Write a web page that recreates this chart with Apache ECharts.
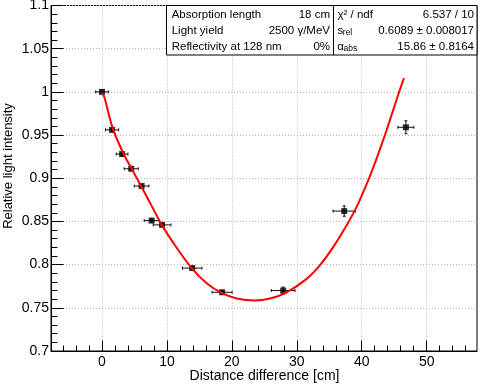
<!DOCTYPE html>
<html><head><meta charset="utf-8">
<script src="https://cdn.jsdelivr.net/npm/echarts@6/dist/echarts.min.js"></script>
<style>html,body{margin:0;padding:0;background:#fff}#c{width:480px;height:386px}</style>
</head><body><div id="c"></div>
<script>
// measured points
const pointX = [0, 1.55, 3.1, 4.5, 6.1, 7.65, 9.25, 13.9, 18.5, 27.9, 37.3, 46.8];
const pointY = [1.0, 0.956, 0.928, 0.911, 0.891, 0.851, 0.846, 0.796, 0.768, 0.770, 0.862, 0.959];
const errX = [0.98, 1.02, 0.9, 1.08, 1.13, 1.15, 1.36, 1.5, 1.54, 1.82, 1.72, 1.23];
const errY = [0.002, 0.002, 0.002, 0.002, 0.002, 0.002, 0.002, 0.002, 0.002, 0.004, 0.006, 0.0075];
// fit curve
const curveX = [0, 0.36, 1.65, 3.28, 4.72, 6.16, 8.42, 9.19, 11.5, 13.81, 16.12, 18.43, 20.74, 23.56, 25.87, 28.44, 31.52, 33.57, 35.62, 37.68, 39.22, 41.01, 42.3, 43.84, 45.63, 46.5];
const curveY = [0.999, 0.994, 0.958, 0.929, 0.909, 0.889, 0.857, 0.846, 0.8195, 0.796, 0.7785, 0.7672, 0.7607, 0.7584, 0.7607, 0.768, 0.7835, 0.7993, 0.8205, 0.8457, 0.8669, 0.8979, 0.9231, 0.9559, 0.997, 1.0159];
// axis ticks
const xMajorTicks = [0, 10, 20, 30, 40, 50];
const xMinorTicks = [-6, -4, -2, 2, 4, 6, 8, 12, 14, 16, 18, 22, 24, 26, 28, 32, 34, 36, 38, 42, 44, 46, 48, 52, 54, 56];
// titles
const xTitle = 'Distance difference [cm]';
const yTitle = 'Relative light intensity';
// stats box
const statsLeftLabels = ['Absorption length', 'Light yield', 'Reflectivity at 128 nm'];
const statsLeftValues = ['18 cm', '2500 \u03b3/MeV', '0%'];
const statsRightValues = ['6.537 / 10', '0.6089 \u00b1 0.008017', '15.86 \u00b1 0.8164'];

const FONT = '"Liberation Sans", Arial, Helvetica, sans-serif';
const chart = echarts.init(document.getElementById('c'));
const rowY = [14.4, 31, 46.7];
const gridLine = {show: true, lineStyle: {color: '#b4b4b4', type: [1, 2], width: 1}};

function txt(text, x, y, size, align, extra) {
  return Object.assign({type: 'text', x: x, y: y, z: 100,
    style: {text: text, fill: '#000', font: size + 'px ' + FONT, fontSize: size, fontFamily: FONT,
      align: align, textAlign: align, verticalAlign: 'middle', textVerticalAlign: 'middle'}}, extra || {});
}
const graphics = [
  {type: 'rect', z: 90, shape: {x: 166.5, y: 5.5, width: 310.5, height: 49.5},
   style: {fill: '#fff', stroke: '#000', lineWidth: 1}},
  {type: 'line', z: 91, shape: {x1: 333.5, y1: 5.5, x2: 333.5, y2: 55}, style: {stroke: '#000', lineWidth: 1}},
  txt(yTitle, 8.5, 166, 13, 'center', {rotation: Math.PI / 2}),
  txt(xTitle, 264.5, 376.5, 14, 'center'),
  txt('\u03c7\u00b2 / ndf', 337.5, rowY[0], 11.5, 'left'),
  txt('s', 337.5, rowY[1], 11.5, 'left'),
  txt('rel', 342.8, rowY[1] + 1.5, 8.5, 'left'),
  txt('\u03b1', 337.3, rowY[2], 11.5, 'left'),
  txt('abs', 343.5, rowY[2] + 1.5, 8.5, 'left')
];
for (let i = 0; i < 3; i++) {
  graphics.push(txt(statsLeftLabels[i], 171.7, rowY[i], 11.5, 'left'));
  graphics.push(txt(statsLeftValues[i], 330, rowY[i], 11.5, 'right'));
  graphics.push(txt(statsRightValues[i], 474, rowY[i], 11.5, 'right'));
}

chart.setOption({
  animation: false,
  backgroundColor: '#fff',
  textStyle: {fontFamily: FONT},
  grid: {left: 51, right: 3, top: 5.5, bottom: 35, containLabel: false, outerBoundsMode: 'none',
    show: true, borderColor: '#000', borderWidth: 1, backgroundColor: 'transparent'},
  xAxis: [{
    type: 'value', min: -7.85, max: 57.75,
    axisLine: {show: true, onZero: false, lineStyle: {color: '#000', width: 1}},
    axisTick: {show: true, inside: true, length: 10.5, customValues: xMajorTicks, lineStyle: {color: '#000'}},
    axisLabel: {show: true, customValues: xMajorTicks, fontSize: 14, color: '#000', margin: 4, fontFamily: FONT},
    splitLine: gridLine
  }, {
    type: 'value', min: -7.85, max: 57.75, position: 'bottom',
    axisLine: {show: false},
    axisTick: {show: true, inside: true, length: 5.5, customValues: xMinorTicks, lineStyle: {color: '#000'}},
    axisLabel: {show: false},
    splitLine: {show: false}
  }],
  yAxis: {
    type: 'value', min: 0.7, max: 1.1, interval: 0.05,
    axisLine: {show: true, onZero: false, lineStyle: {color: '#000', width: 1}},
    axisTick: {show: true, inside: true, length: 12.5, lineStyle: {color: '#000'}},
    minorTick: {show: true, splitNumber: 5, length: 6.5, lineStyle: {color: '#000'}},
    axisLabel: {fontSize: 14, color: '#000', margin: 2, fontFamily: FONT},
    splitLine: gridLine
  },
  series: [{
    type: 'custom', xAxisIndex: 0, yAxisIndex: 0, z: 2,
    data: pointX.map((x, i) => [x, pointY[i], errX[i], errY[i]]),
    renderItem: function (params, api) {
      const x = api.value(0), y = api.value(1), ex = api.value(2), ey = api.value(3);
      const l = api.coord([x - ex, y]), r = api.coord([x + ex, y]);
      const t = api.coord([x, y + ey]), b = api.coord([x, y - ey]);
      const c = 1.5;
      const st = {stroke: '#111', lineWidth: 1};
      const L = (x1, y1, x2, y2) => ({type: 'line', shape: {x1: x1, y1: y1, x2: x2, y2: y2}, style: st});
      return {type: 'group', children: [
        L(l[0], l[1], r[0], r[1]), L(l[0], l[1] - c, l[0], l[1] + c), L(r[0], r[1] - c, r[0], r[1] + c),
        L(t[0], t[1], b[0], b[1]), L(t[0] - c, t[1], t[0] + c, t[1]), L(b[0] - c, b[1], b[0] + c, b[1])
      ]};
    }
  }, {
    type: 'scatter', xAxisIndex: 0, yAxisIndex: 0, z: 3,
    symbol: 'rect', symbolSize: 6,
    itemStyle: {color: '#000'},
    data: pointX.map((x, i) => [x, pointY[i]])
  }, {
    type: 'line', xAxisIndex: 0, yAxisIndex: 0, z: 4,
    smooth: 0.3, showSymbol: false, symbol: 'none',
    lineStyle: {color: '#ff0000', width: 2},
    data: curveX.map((x, i) => [x, curveY[i]])
  }],
  graphic: graphics
});
</script>
</body></html>
